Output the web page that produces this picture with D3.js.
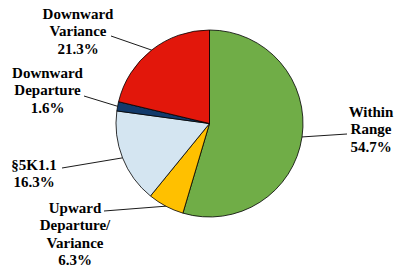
<!DOCTYPE html>
<html>
<head>
<meta charset="utf-8">
<script src="https://cdn.jsdelivr.net/npm/d3@7"></script>
<style>
  body { margin: 0; background: #fff; }
  svg { display: block; }
  .lbl { font-family: 'Liberation Serif', Tinos, 'Times New Roman', Times, 'DejaVu Serif', serif; font-weight: bold; font-size: 15px; }
</style>
</head>
<body>
<script>
// slice data, clockwise from 12 o'clock
const categories = ['Within Range', 'Upward Departure/Variance', '§5K1.1', 'Downward Departure', 'Downward Variance'];
const values = [54.7, 6.3, 16.3, 1.6, 21.3];
const labelLines = [
    ['Within', 'Range', '54.7%'],
    ['Upward', 'Departure/', 'Variance', '6.3%'],
    ['§5K1.1', '16.3%'],
    ['Downward', 'Departure', '1.6%'],
    ['Downward', 'Variance', '21.3%']
];
const colors = ['#70ad47', '#ffc000', '#d4e5f1', '#123a6b', '#e2170b'];

// label placement (center x, first baseline y, leader start)
const labelPos = [
    {x: 371, y: 117, lx: 347, ly: 134},
    {x: 75, y: 213, lx: 104, ly: 211},
    {x: 34, y: 170, lx: 62, ly: 168},
    {x: 47.5, y: 78, lx: 84, ly: 96},
    {x: 78, y: 19, lx: 111, ly: 36}
];

const width = 395, height = 271;
const cx = 209.5, cy = 123.5, r = 93.5;
const lineH = 17.4;

const svg = d3.select('body').append('svg')
    .attr('width', width)
    .attr('height', height);

const pie = d3.pie().sort(null).value(d => d)(values);
const arc = d3.arc().innerRadius(0).outerRadius(r);

const g = svg.append('g').attr('transform', `translate(${cx},${cy})`);

g.selectAll('path')
    .data(pie)
    .join('path')
    .attr('d', arc)
    .attr('fill', (d, i) => colors[i])
    .attr('stroke', '#000')
    .attr('stroke-width', 0.8);

// leader lines go to the arc midpoint on the rim
pie.forEach((d, i) => {
    const a = (d.startAngle + d.endAngle) / 2;
    const px = cx + r * Math.sin(a);
    const py = cy - r * Math.cos(a);
    const p = labelPos[i];
    svg.append('line')
        .attr('x1', p.lx).attr('y1', p.ly)
        .attr('x2', px).attr('y2', py)
        .attr('stroke', '#000')
        .attr('stroke-width', 0.9);

    const t = svg.append('text')
        .attr('class', 'lbl')
        .attr('x', p.x)
        .attr('y', p.y)
        .attr('text-anchor', 'middle')
        .attr('fill', '#000');
    labelLines[i].forEach((s, j) => {
        t.append('tspan')
            .attr('x', p.x)
            .attr('y', p.y + j * lineH)
            .text(s);
    });
});
</script>
</body>
</html>
